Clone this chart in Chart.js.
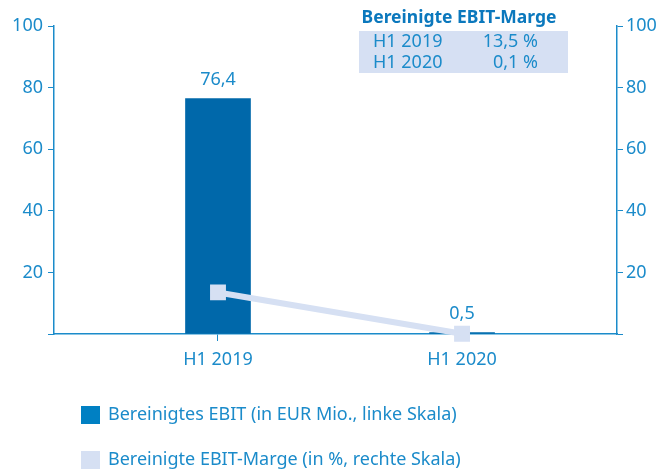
<!DOCTYPE html>
<html>
<head>
<meta charset="utf-8">
<script src="https://cdn.jsdelivr.net/npm/chart.js@4/dist/chart.umd.min.js"></script>
<style>
  html, body { margin: 0; padding: 0; background: #fff; }
  #wrap { width: 663px; height: 470px; }
</style>
</head>
<body>
<div id="wrap"><canvas id="myChart" width="663" height="470"></canvas></div>
<script>
const categories = ['H1 2019', 'H1 2020']
const ebit = [76.4, 0.5]
const ebitLabels = ['76,4', '0,5']
const margin = [13.5, 0.1]
const marginLabels = ['13,5 %', '0,1 %']
const yTicks = [0, 20, 40, 60, 80, 100]
const seriesNames = [
  'Bereinigtes EBIT (in EUR Mio., linke Skala)',
  'Bereinigte EBIT-Marge (in %, rechte Skala)',
]
const tableTitle = 'Bereinigte EBIT-Marge'

const BLUE = '#1b8bca'
const BAR = '#0068aa'
const BAR_LEGEND = '#0080c3'
const LIGHT = '#d6e0f3'
const FONT = '"Noto Sans", Lato, sans-serif'

// value labels over the bars
const barLabels = {
  id: 'barLabels',
  afterDatasetsDraw(chart) {
    const ctx = chart.ctx
    const meta = chart.getDatasetMeta(1)
    ctx.save()
    ctx.fillStyle = BLUE
    ctx.font = '18px ' + FONT
    ctx.textAlign = 'center'
    ctx.textBaseline = 'middle'
    meta.data.forEach((bar, i) => {
      ctx.fillText(ebitLabels[i], bar.x, bar.y - 19)
    })
    ctx.restore()
  },
}

// small table in the upper right and the stacked legend below
const extras = {
  id: 'extras',
  afterDraw(chart) {
    const ctx = chart.ctx
    ctx.save()
    // table
    ctx.fillStyle = LIGHT
    ctx.fillRect(359, 31, 209, 42)
    ctx.fillStyle = '#0b78bd'
    ctx.font = 'bold 17.5px ' + FONT
    ctx.textAlign = 'center'
    ctx.textBaseline = 'middle'
    ctx.fillText(tableTitle, 459, 18)
    ctx.font = '18px ' + FONT
    ctx.fillStyle = BLUE
    categories.forEach((c, i) => {
      const y = 42 + i * 21
      ctx.textAlign = 'left'
      ctx.fillText(c, 373, y)
      ctx.textAlign = 'right'
      ctx.fillText(marginLabels[i], 538, y)
    })
    // legend
    const boxes = [BAR_LEGEND, LIGHT]
    ctx.font = '18px ' + FONT
    ctx.textAlign = 'left'
    seriesNames.forEach((name, i) => {
      const y = 406 + i * 45
      ctx.fillStyle = boxes[i]
      ctx.fillRect(81, y, 19, 18)
      ctx.fillStyle = BLUE
      ctx.fillText(name, 108, y + 9)
    })
    ctx.restore()
  },
}

const ctx = document.getElementById('myChart').getContext('2d')
const myChart = new Chart(ctx, {
  type: 'bar',
  data: {
    datasets: [
      {
        type: 'line',
        label: seriesNames[1],
        data: categories.map((c, i) => ({ x: i, y: margin[i] })),
        yAxisID: 'y2',
        borderColor: LIGHT,
        backgroundColor: LIGHT,
        borderWidth: 6,
        pointStyle: 'rect',
        pointRadius: 7,
        pointHoverRadius: 7,
        pointBackgroundColor: LIGHT,
        pointBorderColor: LIGHT,
        clip: false,
        order: 0,
      },
      {
        label: seriesNames[0],
        data: categories.map((c, i) => ({ x: i, y: ebit[i] })),
        yAxisID: 'y',
        backgroundColor: BAR,
        barThickness: 65,
        order: 1,
      },
    ],
  },
  options: {
    responsive: false,
    animation: false,
    layout: { padding: { top: 26, left: 0, right: 0, bottom: 0 } },
    plugins: {
      legend: { display: false },
      tooltip: { enabled: false },
    },
    scales: {
      x: {
        type: 'linear',
        min: -0.672,
        max: 1.635,
        offset: false,
        afterBuildTicks: (axis) => {
          axis.ticks = categories.map((c, i) => ({ value: i }))
        },
        afterFit: (axis) => { axis.height = 136 },
        ticks: {
          color: BLUE,
          font: { family: FONT, size: 18 },
          padding: 8,
          callback: (v) => categories[v],
        },
        grid: { offset: false, drawOnChartArea: false, color: BLUE, tickLength: 7 },
        border: { color: BLUE, width: 1.5 },
      },
      y: {
        position: 'left',
        min: 0,
        max: 100,
        afterBuildTicks: (axis) => {
          axis.ticks = yTicks.map((v) => ({ value: v }))
        },
        afterFit: (axis) => { axis.width = 54 },
        ticks: {
          color: BLUE,
          font: { family: FONT, size: 18 },
          padding: 5,
          callback: (v) => (v === 0 ? '' : v),
        },
        grid: { drawOnChartArea: false, color: BLUE, tickLength: 6 },
        border: { color: BLUE, width: 1.5 },
      },
      y2: {
        position: 'right',
        min: 0,
        max: 100,
        afterBuildTicks: (axis) => {
          axis.ticks = yTicks.map((v) => ({ value: v }))
        },
        afterFit: (axis) => { axis.width = 46 },
        ticks: {
          color: BLUE,
          font: { family: FONT, size: 18 },
          padding: 3,
          callback: (v) => (v === 0 ? '' : v),
        },
        grid: { drawOnChartArea: false, color: BLUE, tickLength: 6 },
        border: { color: BLUE, width: 1.5 },
      },
    },
  },
  plugins: [barLabels, extras],
})
</script>
</body>
</html>
